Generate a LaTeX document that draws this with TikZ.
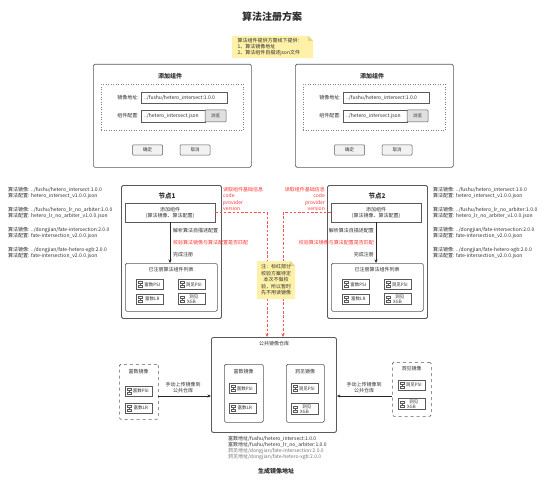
\documentclass[tikz,border=0pt]{standalone}
\usepackage{fontspec}
\setmainfont{Noto Sans CJK SC}
\usetikzlibrary{arrows.meta,calc}
\definecolor{bd}{HTML}{5A5A5A}
\definecolor{tx}{HTML}{2E2E2E}
\definecolor{rd}{HTML}{FF3333}
\definecolor{rdl}{HTML}{FF5050}
\definecolor{nt}{HTML}{FFF2A8}
\definecolor{ntd}{HTML}{E6D684}
\newcommand\rbox[6]{\node[#6,anchor=north west,minimum width=#4pt-#2pt,minimum height=#5pt-#3pt] (#1) at (#2,#3) {};}
\newcommand\cmpt[4]{%
  \node[comp] (#1) at (#2,#3) {\hspace*{4.5pt}#4};
  \draw[draw=bd,line width=0.45pt] ($(#1.west)+(4,-3.4)$) -- ($(#1.west)+(4,3.4)$);
  \draw[draw=bd,fill=white,line width=0.45pt] ($(#1.west)+(2,-3.1)$) rectangle ($(#1.west)+(6,-1.0)$);
  \draw[draw=bd,fill=white,line width=0.45pt] ($(#1.west)+(2,1.0)$) rectangle ($(#1.west)+(6,3.1)$);
}
\newcommand\dialogpanel[2]{%
\begin{scope}[xshift=#2pt]
\rbox{#1win}{93}{64}{251}{167}{draw=bd,fill=white,rounded corners=1.5pt,line width=0.7pt}
\node[font=\fontsize{6}{7}\selectfont\bfseries] (#1ttl) at (170,76) {添加组件};
\rbox{#1grp}{101}{84}{243}{130}{draw=black!50,dotted,line width=0.5pt}
\node[small,anchor=east] (#1l1) at (139,98) {镜像地址:};
\rbox{#1f1}{141}{92}{227}{103.5}{draw=bd,line width=0.5pt}
\node[small,anchor=west] (#1t1) at (144,97.8) {../fushu/hetero\_intersect:1.0.0};
\node[small,anchor=east] (#1l2) at (139,116) {组件配置:};
\rbox{#1f2}{141}{110}{205}{122}{draw=bd,line width=0.5pt}
\node[small,anchor=west] (#1t2) at (144,116) {../hetero\_intersect.json};
\node[btn,minimum width=21pt,minimum height=12pt,fill=black!12] (#1br) at (215.5,116) {浏览};
\node[btn] (#1ok) at (147.5,150) {确定};
\node[btn] (#1cc) at (195,150) {取消};
\end{scope}}
\begin{document}
\begin{tikzpicture}[x=1pt,y=-1pt,
  every node/.style={text=tx,inner sep=0pt},
  small/.style={font=\fontsize{5}{6}\selectfont},
  lbl/.style={font=\fontsize{5}{6.5}\selectfont},
  btn/.style={draw=bd,fill=black!5,rounded corners=0.8pt,line width=0.5pt,minimum width=30pt,minimum height=10pt,font=\fontsize{4.5}{6}\selectfont},
  comp/.style={draw=bd,fill=white,line width=0.5pt,minimum width=27pt,minimum height=10pt,inner ysep=1pt,align=center,font=\fontsize{4.5}{5}\selectfont},
  ntitle/.style={font=\fontsize{6.5}{8}\selectfont\bfseries},
  arr/.style={draw=black!85,line width=0.6pt,-{Stealth[length=3.5pt,width=3pt]}},
  rdash/.style={draw=rdl,line width=0.7pt,dash pattern=on 2.5pt off 1.8pt,-{Stealth[length=3.5pt,width=3pt]}},
  panel/.style={draw=bd,line width=0.9pt,rounded corners=1.5pt},
  inner/.style={draw=bd,line width=0.6pt,rounded corners=1.5pt}]
\useasboundingbox[fill=white] (0,0) rectangle (553,489);

% title and requirement note
\node[font=\fontsize{10}{12}\selectfont\bfseries] (title) at (272,17) {算法注册方案};
\fill[nt] (232,36) -- (308,36) -- (313,41) -- (313,58) -- (232,58) -- cycle;
\fill[ntd] (308,36) -- (308,41) -- (313,41) -- cycle;
\node[lbl,align=left,font=\fontsize{5}{5.8}\selectfont] (req) at (270,47) {算法组件提供方需线下提供：\\1、算法镜像地址\\2、算法组件自描述json文件};

% dialogs
\dialogpanel{da}{0}
\dialogpanel{db}{202}

% side lists
\node[small,anchor=west,align=left] (la1) at (8,192.5) {算法镜像: ../fushu/hetero\_intersect:1.0.0\\算法配置: hetero\_intersect\_v1.0.0.json};
\node[small,anchor=west,align=left] (la2) at (8,212.5) {算法镜像: ../fushu/hetero\_lr\_no\_arbiter:1.0.0\\算法配置: hetero\_lr\_no\_arbiter\_v1.0.0.json};
\node[small,anchor=west,align=left] (la3) at (8,232.5) {算法镜像: ../dongjian/fate-intersection:2.0.0\\算法配置: fate-intersection\_v2.0.0.json};
\node[small,anchor=west,align=left] (la4) at (8,252.5) {算法镜像: ../dongjian/fate-hetero-xgb:2.0.0\\算法配置: fate-intersection\_v2.0.0.json};
\node[small,anchor=west,align=left] (lb1) at (433,193) {算法镜像: ../fushu/hetero\_intersect:1.0.0\\算法配置: hetero\_intersect\_v1.0.0.json};
\node[small,anchor=west,align=left] (lb2) at (433,213) {算法镜像: ../fushu/hetero\_lr\_no\_arbiter:1.0.0\\算法配置: hetero\_lr\_no\_arbiter\_v1.0.0.json};
\node[small,anchor=west,align=left] (lb3) at (433,233) {算法镜像: ../dongjian/fate-intersection:2.0.0\\算法配置: fate-intersection\_v2.0.0.json};
\node[small,anchor=west,align=left] (lb4) at (433,253) {算法镜像: ../dongjian/fate-hetero-xgb:2.0.0\\算法配置: fate-intersection\_v2.0.0.json};

% node 1
\rbox{n1}{121}{185}{221}{318}{panel}
\node[ntitle] (n1t) at (167,196) {节点1};
\node[draw=bd,line width=0.6pt,minimum width=90pt,minimum height=19pt,small,align=center] (n1add) at (170,212.5) {添加组件\\(算法镜像、算法配置)};
\rbox{n1list}{125}{263}{217}{311}{inner}
\node[small] (n1lt) at (171,270) {已注册算法组件列表};
\cmpt{n1c1}{150}{284.5}{富数PSI}
\cmpt{n1c2}{150}{299}{富数LR}
\cmpt{n1c3}{191.5}{284.5}{洞见PSI}
\cmpt{n1c4}{191.5}{299}{洞见\\XGB}
\draw[arr] (n1add.south) -- (n1add.south |- n1list.north);
\node[lbl,anchor=west] (n1s1) at (173,231) {解析算法自描述配置};
\node[lbl,anchor=west,text=rd] (n1s2) at (173,243) {校验算法镜像与算法配置是否匹配};
\node[lbl,anchor=west] (n1s3) at (173,255) {完成注册};
\node[lbl,anchor=north west,align=left,text=rd] (n1info) at (223,187) {读取组件基础信息\\code\\provider\\version};

% node 2
\rbox{n2}{327}{185}{427}{318}{panel}
\node[ntitle] (n2t) at (377,196) {节点2};
\node[draw=bd,line width=0.6pt,minimum width=90pt,minimum height=19pt,small,align=center] (n2add) at (376,212.5) {添加组件\\(算法镜像、算法配置)};
\rbox{n2list}{331}{263}{423}{311}{inner}
\node[small] (n2lt) at (377,270) {已注册算法组件列表};
\cmpt{n2c1}{356}{284.5}{富数PSI}
\cmpt{n2c2}{356}{299}{富数LR}
\cmpt{n2c3}{397.5}{284.5}{洞见PSI}
\cmpt{n2c4}{397.5}{299}{洞见\\XGB}
\draw[arr] (n2add.south) -- (n2add.south |- n2list.north);
\node[lbl,anchor=east] (n2s1) at (374,231) {解析算法自描述配置};
\node[lbl,anchor=east,text=rd] (n2s2) at (374,243) {校验算法镜像与算法配置是否匹配};
\node[lbl,anchor=east] (n2s3) at (374,255) {完成注册};
\node[lbl,anchor=north east,align=right,text=rd] (n2info) at (325,187) {读取组件基础信息\\code\\provider\\version};

% public repository
\rbox{repo}{211}{337}{336}{432}{draw=bd,line width=0.9pt,rounded corners=2pt}
\node[small] (repot) at (274,344) {公共镜像仓库};
\rbox{rfs}{224}{364}{263}{422}{inner}
\node[small] (rfst) at (243.5,372) {富数镜像};
\rbox{rdj}{286}{364}{324}{422}{inner}
\node[small] (rdjt) at (305,372) {洞见镜像};
\cmpt{rc1}{242.5}{388.5}{富数PSI}
\cmpt{rc2}{242.5}{408}{富数LR}
\cmpt{rc3}{304.5}{388.5}{洞见PSI}
\cmpt{rc4}{304.5}{409}{洞见\\XGB}

% red dashed connectors
\coordinate (r1) at (267,212.5);
\coordinate (r2) at (283,212.5);
\draw[rdash] (n1add.east) -- (r1) -- (r1 |- repo.north);
\draw[rdash] (n2add.west) -- (r2) -- (r2 |- repo.north);

% middle note
\fill[nt] (257,261) -- (290,261) -- (295,266) -- (295,299) -- (257,299) -- cycle;
\fill[ntd] (290,261) -- (290,266) -- (295,266) -- cycle;
\node[lbl,align=center] (mnote) at (276,280) {注：标红部分\\校验方案待定\\本次不做校\\验，所以暂时\\先不用读镜像};

% outside image groups
\rbox{lfs}{119}{364}{158}{419}{draw=bd,dashed,line width=0.6pt,rounded corners=1.5pt}
\node[small] (lfst) at (138.5,372) {富数镜像};
\cmpt{lc1}{138.5}{391}{富数PSI}
\cmpt{lc2}{138.5}{408}{富数LR}
\rbox{rdb}{392}{362}{431}{416}{draw=bd,dashed,line width=0.6pt,rounded corners=1.5pt}
\node[small] (rdbt) at (411.5,369) {洞见镜像};
\cmpt{rb1}{411.5}{385}{洞见PSI}
\cmpt{rb2}{411.5}{404}{洞见\\XGB}
\coordinate (la) at (158,396);
\coordinate (ra) at (392,396);
\draw[arr] (la) -- (la -| repo.west);
\draw[arr] (ra) -- (ra -| repo.east);
\node[small,align=center] (lal) at (183,388) {手动上传镜像到\\公共仓库};
\node[small,align=center] (ral) at (364,388) {手动上传镜像到\\公共仓库};

% generated addresses
\node[small,anchor=north west,align=left] (addr) at (228,436.5) {富数地址/fushu/hetero\_intersect:1.0.0\\富数地址/fushu/hetero\_lr\_no\_arbiter:1.0.0\\\textcolor{black!55}{洞见地址/dongjian/fate-intersection:2.0.0}\\\textcolor{black!55}{洞见地址/dongjian/fate-hetero-xgb:2.0.0}};
\node[font=\fontsize{6}{7}\selectfont\bfseries] (gen) at (276,471) {生成镜像地址};
\end{tikzpicture}
\end{document}
